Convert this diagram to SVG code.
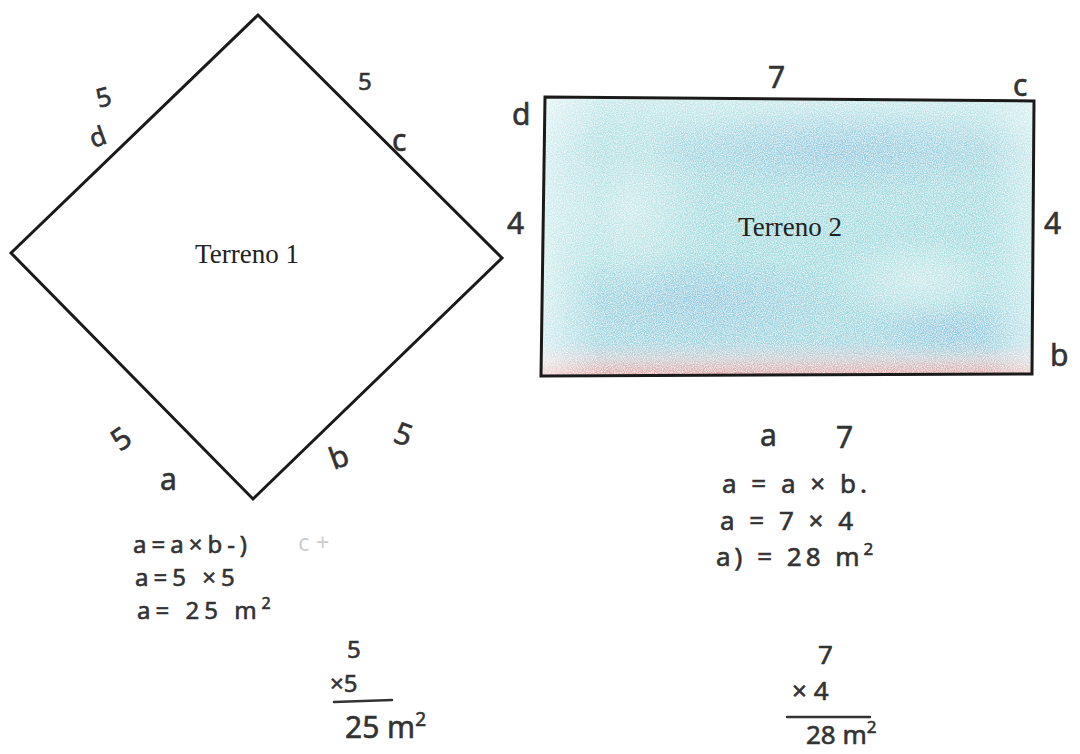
<svg xmlns="http://www.w3.org/2000/svg" width="1080" height="754" viewBox="0 0 1080 754">
  <style>
    .hw { font-family: "Noto Sans", "DejaVu Sans", sans-serif; fill: #333; stroke: #333; stroke-width: 0.6; font-size: 30px; }
    .hs { font-size: 24px; }
    .hm { font-size: 26px; }
    .sp1 { letter-spacing: 5px; }
    .sp2 { letter-spacing: 4px; }
    .faint { fill: #cfcfcf; stroke: none; }
    .lbl { font-family: "Liberation Serif", serif; fill: #222; font-size: 27px; }
    .shape { fill: none; stroke: #1a1a1a; stroke-width: 3; stroke-linejoin: miter; }
    .rule { stroke: #333; stroke-width: 2.5; stroke-linecap: round; }
  </style>
  <defs>
    <linearGradient id="sky" x1="0" y1="0" x2="0" y2="1">
      <stop offset="0" stop-color="#c6e8ea"/>
      <stop offset="0.2" stop-color="#a6dbe0"/>
      <stop offset="0.6" stop-color="#a2dcdf"/>
      <stop offset="0.88" stop-color="#9fd6e0"/>
      <stop offset="0.94" stop-color="#c8cdd4"/>
      <stop offset="1" stop-color="#e3a6a2"/>
    </linearGradient>
    <linearGradient id="side" x1="0" y1="0" x2="1" y2="0">
      <stop offset="0" stop-color="#ffffff" stop-opacity="0.55"/>
      <stop offset="0.12" stop-color="#ffffff" stop-opacity="0"/>
      <stop offset="0.9" stop-color="#ffffff" stop-opacity="0"/>
      <stop offset="1" stop-color="#ffffff" stop-opacity="0.4"/>
    </linearGradient>
    <radialGradient id="blue1" cx="0.5" cy="0.5" r="0.5">
      <stop offset="0" stop-color="#86bfe0" stop-opacity="0.6"/>
      <stop offset="1" stop-color="#86bfe0" stop-opacity="0"/>
    </radialGradient>
    <radialGradient id="light1" cx="0.5" cy="0.5" r="0.5">
      <stop offset="0" stop-color="#e4f3f1" stop-opacity="0.6"/>
      <stop offset="1" stop-color="#e4f3f1" stop-opacity="0"/>
    </radialGradient>
    <filter id="grain" x="0" y="0" width="100%" height="100%">
      <feTurbulence type="fractalNoise" baseFrequency="0.9" numOctaves="2" seed="3" result="n"/>
      <feColorMatrix in="n" type="matrix" values="0 0 0 0 1  0 0 0 0 1  0 0 0 0 1  0 0 0 -1.4 0.95" result="w"/>
      <feComposite in="w" in2="SourceGraphic" operator="in" result="wm"/>
      <feMerge><feMergeNode in="SourceGraphic"/><feMergeNode in="wm"/></feMerge>
    </filter>
  </defs>
  <rect width="1080" height="754" fill="#ffffff"/>

  <!-- Terreno 1 -->
  <g id="terreno1">
    <polygon class="shape" points="258,15 502,258 253,499 11,253"/>
    <text class="lbl" x="247" y="263" text-anchor="middle">Terreno 1</text>
    <text class="hw hm" x="96" y="106" transform="rotate(-15 105 97)">5</text>
    <text class="hw hm" x="88" y="145" transform="rotate(-20 100 132)">d</text>
    <text class="hw hs" x="358" y="90">5</text>
    <text class="hw" x="392" y="151">c</text>
    <text class="hw" x="108" y="446" transform="rotate(-35 124 430)">5</text>
    <text class="hw" x="160" y="490">a</text>
    <text class="hw" x="328" y="466" transform="rotate(-20 342 452)">b</text>
    <text class="hw" x="396" y="447" transform="rotate(20 410 432)">5</text>
  </g>

  <!-- Terreno 2 -->
  <g id="terreno2">
    <g filter="url(#grain)">
      <polygon points="545,99 1033,102 1031,373 542,375" fill="url(#sky)"/>
      <ellipse cx="840" cy="150" rx="200" ry="45" fill="url(#blue1)"/>
      <ellipse cx="700" cy="300" rx="150" ry="50" fill="url(#blue1)"/>
      <ellipse cx="950" cy="330" rx="80" ry="30" fill="url(#blue1)"/>
      <ellipse cx="630" cy="210" rx="80" ry="90" fill="url(#light1)"/>
      <ellipse cx="920" cy="280" rx="90" ry="45" fill="url(#light1)"/>
      <polygon points="545,99 1033,102 1031,373 542,375" fill="url(#side)"/>
    </g>
    <polygon class="shape" points="545,97 1034,101 1032,374 541,376"/>
    <text class="lbl" x="790" y="236" text-anchor="middle">Terreno 2</text>
    <text class="hw" x="768" y="88">7</text>
    <text class="hw" x="1013" y="96">c</text>
    <text class="hw" x="512" y="125">d</text>
    <text class="hw" x="507" y="234">4</text>
    <text class="hw" x="1044" y="234">4</text>
    <text class="hw" x="1050" y="366">b</text>
    <text class="hw" x="760" y="446">a</text>
    <text class="hw" x="836" y="448">7</text>
  </g>

  <!-- Work for Terreno 1 -->
  <g id="calc1">
    <text class="hw hs sp1" x="133" y="553">a=a×b-)</text>
    <text class="hw hs faint" x="298" y="551">c +</text>
    <text class="hw hs sp1" x="135" y="586">a=5 ×5</text>
    <text class="hw hs sp1" x="137" y="619">a= 25 m<tspan font-size="16" dy="-10">2</tspan></text>
    <text class="hw hs" x="347" y="658">5</text>
    <text class="hw hs" x="330" y="692">×5</text>
    <line class="rule" x1="334" y1="702" x2="392" y2="700"/>
    <text class="hw" x="345" y="738">25 m<tspan font-size="19" dy="-12">2</tspan></text>
  </g>

  <!-- Work for Terreno 2 -->
  <g id="calc2">
    <text class="hw hm sp2" x="722" y="493">a = a × b.</text>
    <text class="hw hm sp2" x="720" y="530">a = 7 × 4</text>
    <text class="hw hm sp2" x="716" y="566">a) = 28 m<tspan font-size="17" dy="-11">2</tspan></text>
    <text class="hw hm" x="818" y="664">7</text>
    <text class="hw hm" x="792" y="700">× 4</text>
    <line class="rule" x1="787" y1="717" x2="870" y2="717"/>
    <text class="hw hm" x="806" y="744">28 m<tspan font-size="17" dy="-11">2</tspan></text>
  </g>
</svg>
